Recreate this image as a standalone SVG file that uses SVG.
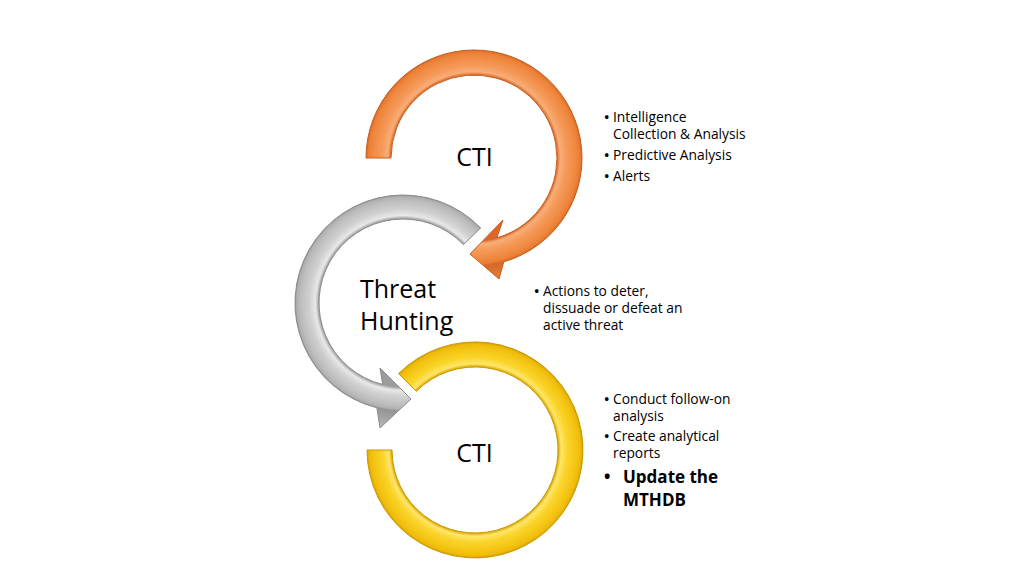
<svg xmlns="http://www.w3.org/2000/svg" width="1024" height="576" viewBox="0 0 1024 576">
<defs>
<radialGradient id="gOrange" gradientUnits="userSpaceOnUse" cx="474" cy="158" r="125">
<stop offset="0.664" stop-color="#D9682A"/>
<stop offset="0.69" stop-color="#F8AE78"/>
<stop offset="0.74" stop-color="#F59A5A"/>
<stop offset="0.81" stop-color="#F08A42"/>
<stop offset="0.845" stop-color="#EC7E34"/>
<stop offset="0.864" stop-color="#D5692A"/>
<stop offset="1" stop-color="#E8803A"/>
</radialGradient>
<radialGradient id="gGray" gradientUnits="userSpaceOnUse" cx="403" cy="303" r="125">
<stop offset="0.672" stop-color="#9C9C9C"/>
<stop offset="0.70" stop-color="#E8E8E8"/>
<stop offset="0.75" stop-color="#D0D0D0"/>
<stop offset="0.82" stop-color="#BDBDBD"/>
<stop offset="0.85" stop-color="#B0B0B0"/>
<stop offset="0.864" stop-color="#949494"/>
<stop offset="1" stop-color="#B4B4B4"/>
</radialGradient>
<radialGradient id="gYellow" gradientUnits="userSpaceOnUse" cx="475" cy="450" r="125">
<stop offset="0.664" stop-color="#D9A600"/>
<stop offset="0.69" stop-color="#FFE66A"/>
<stop offset="0.74" stop-color="#FAD42A"/>
<stop offset="0.81" stop-color="#F4C514"/>
<stop offset="0.845" stop-color="#EEBA0A"/>
<stop offset="0.864" stop-color="#D4A000"/>
<stop offset="1" stop-color="#F0C010"/>
</radialGradient>
<style>
.lbl{font-family:"Open Sans","Noto Sans","Liberation Sans",sans-serif;font-size:25px;fill:#000}
.txt{font-family:"Open Sans","Noto Sans","Liberation Sans",sans-serif;font-size:13.8px;fill:#000}
.bul{font-size:17px}
.b{font-size:17px;font-weight:bold}
.mid{text-anchor:middle}
.ring{stroke-width:1;stroke-linejoin:round}
</style>
</defs>
<rect width="1024" height="576" fill="#FFFFFF"/>

<g id="connectors"/>

<g id="node-cti-top">
<path class="ring" fill="url(#gOrange)" stroke="#C65E1E" d="M 366,158 A 108 108 0 1 1 503.8,261.8 L 499,279 L 470,254 L 503,220 L 496.9,237.8 A 83 83 0 1 0 391,158 Z"/>
<text class="lbl mid" x="474.5" y="166">CTI</text>
</g>

<g id="node-threat-hunting">
<path class="ring" fill="url(#gGray)" stroke="#8A8A8A" d="M 480.7,228 A 108 108 0 1 0 376.9,407.8 L 380,428 L 411,399 L 380,368 L 382.7,384.5 A 84 84 0 1 1 463.4,244.6 Z"/>
<text class="lbl"><tspan x="360" y="298">Threat</tspan><tspan x="360" y="330">Hunting</tspan></text>
</g>

<g id="node-cti-bottom">
<path class="ring" fill="url(#gYellow)" stroke="#C99A00" d="M 398.6,373.6 A 108 108 0 1 1 367,450 L 392,450 A 83 83 0 1 0 416.3,391.3 Z"/>
<text class="lbl mid" x="474.5" y="462">CTI</text>
</g>

<g id="notes-cti-top">
<text class="txt"><tspan class="bul" x="603.5" y="123">•</tspan><tspan x="613" y="122">Intelligence</tspan><tspan x="613" y="139">Collection &amp; Analysis</tspan><tspan class="bul" x="603.5" y="161">•</tspan><tspan x="613" y="160">Predictive Analysis</tspan><tspan class="bul" x="603.5" y="182">•</tspan><tspan x="613" y="181">Alerts</tspan></text>
</g>

<g id="notes-threat-hunting">
<text class="txt"><tspan class="bul" x="533.5" y="297">•</tspan><tspan x="543" y="296">Actions to deter,</tspan><tspan x="543" y="313">dissuade or defeat an</tspan><tspan x="543" y="330">active threat</tspan></text>
</g>

<g id="notes-cti-bottom">
<text class="txt"><tspan class="bul" x="603.5" y="405">•</tspan><tspan x="613" y="404">Conduct follow-on</tspan><tspan x="613" y="421">analysis</tspan><tspan class="bul" x="603.5" y="442">•</tspan><tspan x="613" y="441">Create analytical</tspan><tspan x="613" y="458">reports</tspan><tspan class="b" x="604" y="483">•</tspan><tspan class="b" x="623" y="483">Update the</tspan><tspan class="b" x="623" y="506">MTHDB</tspan></text>
</g>
</svg>
